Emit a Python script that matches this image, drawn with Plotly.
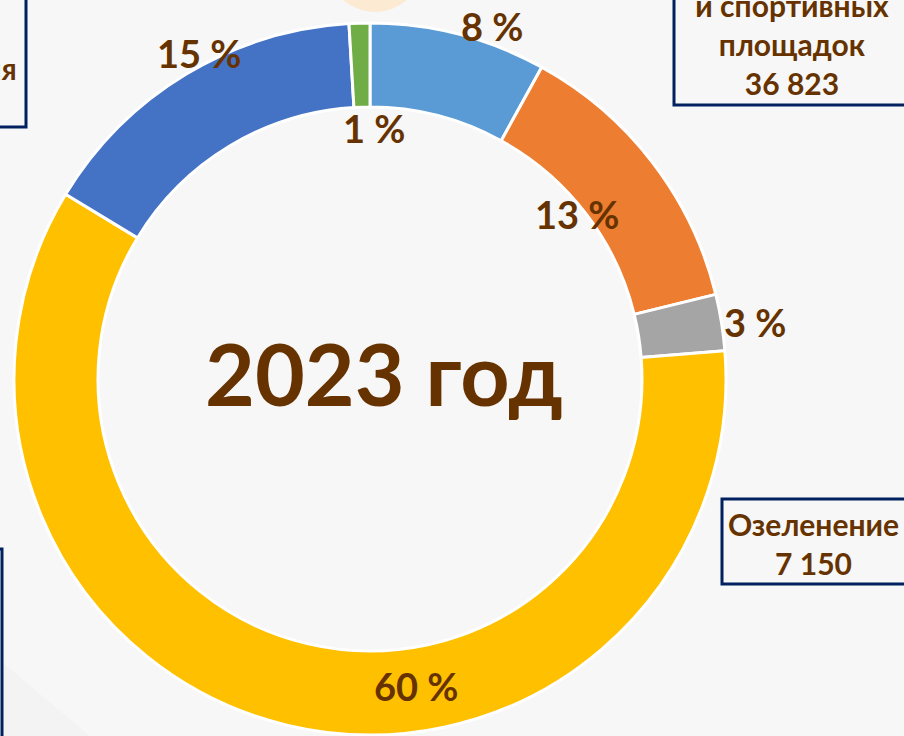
import plotly.graph_objs as go

W, H = 904, 736

# slices, clockwise from 12 o'clock
categories = ['Ремонт дорог', 'Ремонт детских и спортивных площадок', 'Озеленение',
              'Благоустройство дворов', 'Освещение', 'Прочее']
values = [22400, 36823, 7150, 167600, 43000, 2630]
colors = ['#5B9BD5', '#ED7D31', '#A5A5A5', '#FFC000', '#4472C4', '#70AD47']

# where each percent label sits (px from top-left), same order as values
label_pos = [(492, 26), (577, 214), (755, 322), (416, 686), (199, 53), (374, 128)]

BROWN = '#663300'
NAVY = '#002060'
FONT = 'Lato'


def px(x):
    return x / W


def py(y):
    return 1 - y / H


total = sum(values)
pct_text = [f'{round(v / total * 100)} %' for v in values]

fig = go.Figure(go.Pie(
    labels=categories,
    values=values,
    hole=0.764,
    sort=False,
    direction='clockwise',
    rotation=0,
    marker=dict(colors=colors, line=dict(color='white', width=3)),
    textinfo='none',
    hoverinfo='label+value+percent',
    domain=dict(x=[px(14), px(726)], y=[py(736), py(22)]),
))

annotations = []
for txt, (x, y) in zip(pct_text, label_pos):
    annotations.append(dict(x=px(x), y=py(y), xref='paper', yref='paper', text=f'<b>{txt}</b>',
                            showarrow=False, xanchor='center', yanchor='middle',
                            font=dict(family=FONT, size=38, color=BROWN)))

# centre title
annotations.append(dict(x=px(384), y=py(372), xref='paper', yref='paper', text='<b>2023 год</b>',
                        showarrow=False, xanchor='center', yanchor='middle',
                        font=dict(family=FONT, size=86, color=BROWN)))

# callout boxes (partly off the slide)
box_font = dict(family=FONT, size=30, color=BROWN)
annotations.append(dict(x=px(792), y=py(103), xref='paper', yref='paper',
                        text='<b>Ремонт детских<br>и спортивных<br>площадок<br>36 823</b>',
                        showarrow=False, xanchor='center', yanchor='bottom', font=box_font))
annotations.append(dict(x=px(813), y=py(543), xref='paper', yref='paper',
                        text='<b>Озеленение<br>7 150</b>',
                        showarrow=False, xanchor='center', yanchor='middle', font=box_font))
annotations.append(dict(x=px(19), y=py(68), xref='paper', yref='paper',
                        text='<b>Освещения</b>',
                        showarrow=False, xanchor='right', yanchor='middle', font=box_font))

shapes = [
    # faint shading in the lower-left corner
    dict(type='path', xref='paper', yref='paper', layer='below', line=dict(width=0),
         fillcolor='rgba(0,0,0,0.015)',
         path=f'M {px(0)} {py(660)} L {px(0)} {py(736)} L {px(90)} {py(736)} Z'),
    # soft circle peeking in at the top
    dict(type='circle', xref='paper', yref='paper', layer='below', line=dict(width=0),
         fillcolor='#FCEBD2', x0=px(327), x1=px(423), y0=py(-84), y1=py(12)),
    # boxes
    dict(type='rect', xref='paper', yref='paper', line=dict(color=NAVY, width=3),
         x0=px(674), x1=px(915), y0=py(105), y1=py(-20)),
    dict(type='rect', xref='paper', yref='paper', line=dict(color=NAVY, width=3),
         x0=px(722), x1=px(915), y0=py(584), y1=py(499)),
    dict(type='rect', xref='paper', yref='paper', line=dict(color=NAVY, width=3),
         x0=px(-40), x1=px(26), y0=py(127), y1=py(-20)),
    dict(type='rect', xref='paper', yref='paper', line=dict(color=NAVY, width=3),
         x0=px(-60), x1=px(2), y0=py(760), y1=py(549)),
]

fig.update_layout(
    width=W,
    height=H,
    autosize=False,
    margin=dict(l=0, r=0, t=0, b=0),
    paper_bgcolor='#F7F7F7',
    plot_bgcolor='#F7F7F7',
    showlegend=False,
    annotations=annotations,
    shapes=shapes,
)

# drop the default page margin so the figure fills the window
fig.write_html('out.html', config={'displayModeBar': False},
               post_script="document.body.style.margin='0';")
